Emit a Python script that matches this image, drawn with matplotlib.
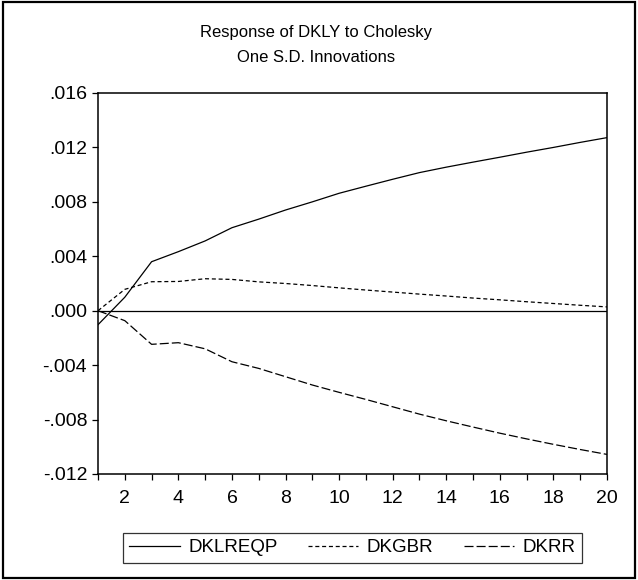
import numpy as np
import matplotlib.pyplot as plt
from matplotlib.patches import Rectangle
from matplotlib.ticker import FixedLocator, FuncFormatter

plt.rcParams['font.family'] = ['Liberation Sans', 'DejaVu Sans']
plt.rcParams['lines.scale_dashes'] = False

periods = list(range(1, 21))

dklreqp = [-0.00103, 0.00099, 0.00360, 0.00434, 0.00513, 0.00610, 0.00673,
           0.00740, 0.00800, 0.00863, 0.00915, 0.00966, 0.01015, 0.01055,
           0.01092, 0.01128, 0.01165, 0.01200, 0.01237, 0.01272]
dkgbr = [0.00000, 0.00157, 0.00213, 0.00215, 0.00235, 0.00230, 0.00212,
         0.00200, 0.00185, 0.00168, 0.00152, 0.00137, 0.00122, 0.00108,
         0.00093, 0.00080, 0.00066, 0.00053, 0.00040, 0.00028]
dkrr = [0.00000, -0.00073, -0.00247, -0.00235, -0.00280, -0.00375, -0.00424,
        -0.00485, -0.00546, -0.00600, -0.00652, -0.00706, -0.00760, -0.00809,
        -0.00855, -0.00900, -0.00942, -0.00982, -0.01020, -0.01056]

series_names = ['DKLREQP', 'DKGBR', 'DKRR']
y_ticks = [-0.012, -0.008, -0.004, 0.000, 0.004, 0.008, 0.012, 0.016]
x_labels = [2, 4, 6, 8, 10, 12, 14, 16, 18, 20]


def short_fmt(v, pos):
    s = '%.3f' % v
    return s.replace('0.', '.', 1)


fig = plt.figure(figsize=(6.38, 5.8), dpi=100)
ax = fig.add_axes([98 / 638, 1 - 474 / 580, 509 / 638, 381 / 580])

ax.plot(periods, dklreqp, color='black', lw=0.9, ls='-', label=series_names[0])
ax.plot(periods, dkgbr, color='black', lw=0.9, ls=(0, (2.9, 2.0)), label=series_names[1])
ax.plot(periods, dkrr, color='black', lw=0.9, ls=(0, (6.5, 2.2)), label=series_names[2])
ax.axhline(0, color='black', lw=0.9)

ax.set_xlim(1, 20)
ax.set_ylim(-0.012, 0.016)
ax.xaxis.set_major_locator(FixedLocator(periods))
ax.xaxis.set_major_formatter(FuncFormatter(lambda v, p: str(int(v)) if int(v) in x_labels else ''))
ax.yaxis.set_major_locator(FixedLocator(y_ticks))
ax.yaxis.set_major_formatter(FuncFormatter(short_fmt))
ax.tick_params(axis='both', direction='out', length=4.3, width=0.9, labelsize=14, color='black')
ax.tick_params(axis='x', pad=7)
ax.tick_params(axis='y', pad=3.5)
for sp in ax.spines.values():
    sp.set_linewidth(1.1)

fig.text(0.495, 1 - 33 / 580, 'Response of DKLY to Cholesky', ha='center', va='center', fontsize=12)
fig.text(0.495, 1 - 58 / 580, 'One S.D. Innovations', ha='center', va='center', fontsize=12)

leg = ax.legend(loc='center', bbox_to_anchor=(0.5, -0.194), ncol=3, frameon=True, fancybox=False,
                edgecolor='black', fontsize=13.5, handlelength=2.7, handletextpad=0.45,
                columnspacing=1.6, borderpad=0.35, borderaxespad=0)
leg.get_frame().set_linewidth(0.9)

fig.patches.append(Rectangle((0.004, 0.004), 0.992, 0.992, transform=fig.transFigure,
                             fill=False, edgecolor='black', lw=1.6))

fig.savefig('out.png', dpi=100)
